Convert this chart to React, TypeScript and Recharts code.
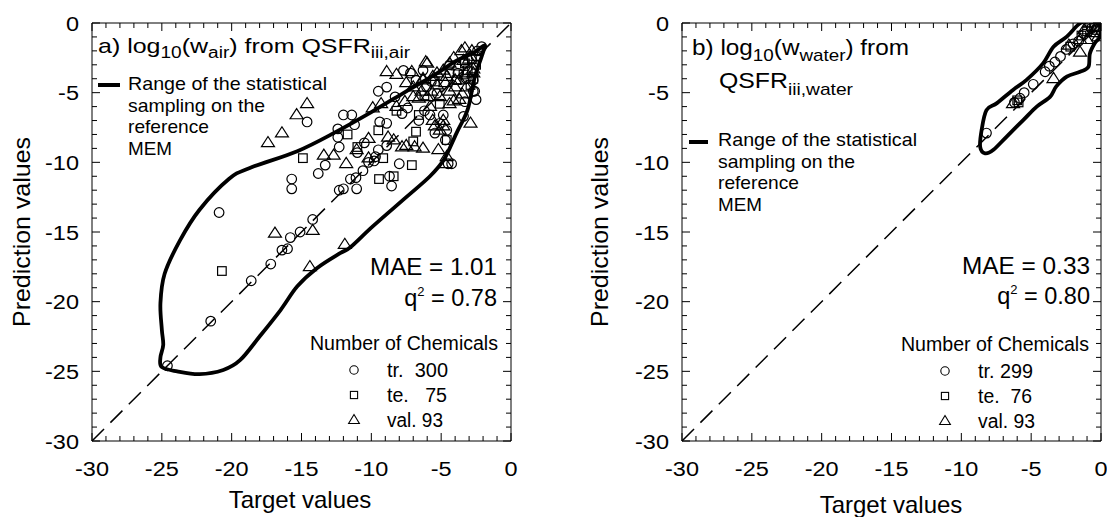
import { ComposedChart, Scatter, Line, XAxis, YAxis, ReferenceLine } from 'recharts';

type Pt = [number, number];

const AXIS_TICKS = [
  -30, -29, -28, -27, -26, -25, -24, -23, -22, -21, -20, -19, -18, -17, -16, -15,
  -14, -13, -12, -11, -10, -9, -8, -7, -6, -5, -4, -3, -2, -1, 0,
];
const DIAGONAL: Pt[] = [[-30, -30], [0, 0]];

// a) air
const AIR_TR: Pt[] = [
  [-24.6, -24.6], [-21.5, -21.4], [-18.6, -18.5], [-17.2, -17.3], [-16.4, -16.3], [-16.0, -16.2],
  [-15.8, -15.4], [-15.1, -15.0], [-14.2, -14.1], [-13.8, -10.8], [-13.3, -10.2], [-20.9, -13.6],
  [-15.7, -11.2], [-15.7, -11.9], [-14.6, -7.1], [-12.3, -12.0], [-12.0, -11.9], [-11.5, -11.2],
  [-11.1, -11.1], [-11.05, -11.9], [-10.6, -10.6], [-10.2, -10.0], [-9.7, -9.6], [-9.5, -9.1],
  [-8.9, -8.8], [-8.0, -10.1], [-8.7, -11.0], [-8.55, -11.7], [-4.5, -10.1], [-4.25, -10.1],
  [-12.0, -6.6], [-12.4, -7.6], [-12.4, -8.2], [-11.2, -7.3], [-11.4, -6.6], [-9.4, -7.1],
  [-8.9, -7.2], [-9.5, -4.9], [-8.9, -4.6], [-8.3, -5.3], [-7.8, -6.5], [-7.4, -6.1],
  [-6.6, -7.0], [-6.2, -6.3], [-5.8, -6.6], [-5.45, -7.9], [-5.1, -7.2], [-4.6, -7.7],
  [-4.7, -8.4], [-4.85, -6.6], [-3.4, -6.7], [-3.3, -5.65], [-2.6, -4.9], [-2.7, -4.1],
  [-4.4, -3.0], [-3.8, -3.6], [-3.2, -4.0], [-6.05, -4.6], [-5.7, -4.2], [-5.3, -5.05],
  [-7.7, -3.4], [-7.2, -3.6], [-6.8, -4.1], [-6.3, -3.4], [-2.4, -2.0], [-2.1, -1.7],
  [-2.5, -2.4], [-12.3, -8.9], [-10.5, -8.6], [-11.0, -9.3], [-9.8, -9.9], [-2.7, -4.9],
  [-2.5, -5.5],
];
const AIR_TE: Pt[] = [
  [-20.7, -17.8], [-14.9, -9.7], [-11.7, -8.0], [-11.0, -8.9], [-9.5, -7.7], [-9.15, -9.7],
  [-7.1, -10.2], [-9.45, -11.2], [-8.4, -11.0], [-7.0, -8.5], [-5.45, -4.2], [-6.6, -6.6],
  [-3.9, -4.1], [-3.4, -3.7], [-3.1, -3.4], [-2.9, -4.45], [-2.7, -4.0], [-5.1, -5.8],
  [-4.4, -3.6], [-6.8, -7.8], [-4.6, -8.4], [-2.8, -2.6], [-3.3, -2.9], [-2.5, -3.0],
  [-6.2, -5.2], [-8.2, -6.3],
];
const AIR_VAL: Pt[] = [
  [-14.6, -5.8], [-15.35, -6.6], [-16.4, -7.9], [-17.4, -8.6], [-8.9, -3.5], [-8.2, -3.7],
  [-7.1, -3.5], [-6.0, -2.9], [-10.2, -8.3], [-13.4, -9.5], [-12.7, -9.5], [-11.8, -10.1],
  [-10.2, -9.7], [-11.05, -9.1], [-9.9, -6.1], [-9.3, -5.8], [-8.2, -6.0], [-7.6, -5.65],
  [-7.0, -5.3], [-6.4, -4.9], [-8.4, -8.4], [-7.8, -8.9], [-7.5, -8.8], [-6.9, -8.9],
  [-6.3, -9.0], [-5.45, -7.4], [-5.1, -7.7], [-4.85, -7.0], [-5.2, -9.1], [-4.6, -9.6],
  [-4.7, -10.1], [-2.9, -7.2], [-6.6, -5.4], [-6.0, -5.3], [-5.7, -4.9], [-5.3, -4.45],
  [-4.7, -4.3], [-4.4, -4.9], [-4.0, -4.6], [-3.7, -4.1], [-3.2, -3.6], [-3.8, -3.1],
  [-5.3, -3.6], [-4.6, -3.85], [-6.3, -4.0], [-7.0, -4.6], [-7.5, -4.3], [-6.1, -2.8],
  [-3.55, -2.0], [-3.3, -1.8], [-2.8, -2.0], [-16.9, -15.1], [-14.2, -14.9], [-14.4, -17.5],
  [-11.9, -15.9], [-3.0, -2.6], [-2.7, -3.3], [-4.1, -2.5], [-3.5, -5.1], [-4.1, -5.6],
  [-8.8, -8.2], [-6.3, -4.1], [-5.6, -3.85], [-4.85, -3.4], [-4.4, -2.9], [-3.4, -2.7],
  [-2.9, -2.4], [-4.0, -4.1], [-3.2, -4.6], [-2.7, -3.6], [-5.1, -5.3], [-5.8, -6.0],
  [-4.4, -5.8], [-3.7, -5.5], [-5.6, -7.0], [-4.85, -7.4],
];
const AIR_RANGE: Pt[] = [
  [-1.9, -1.6], [-2.6, -2.1], [-3.9, -2.7], [-5.6, -3.8], [-7.5, -4.9], [-10.0, -6.4],
  [-12.5, -7.8], [-15.3, -9.2], [-18.7, -10.4], [-20.2, -11.2], [-22.3, -13.4], [-23.7, -15.6],
  [-24.8, -18.0], [-25.1, -20.1], [-25.0, -22.0], [-24.9, -23.1], [-25.1, -24.0], [-25.0, -24.7],
  [-23.9, -25.0], [-22.3, -25.2], [-20.6, -24.9], [-19.4, -24.2], [-18.0, -22.5], [-16.5, -20.6],
  [-15.3, -18.9], [-13.9, -17.6], [-12.2, -16.5], [-11.5, -16.1], [-9.9, -14.6], [-7.5, -12.5],
  [-5.8, -11.0], [-4.8, -9.8], [-3.9, -7.9], [-3.1, -6.2], [-2.6, -3.9], [-2.1, -2.4],
];

// b) water
const WATER_TR: Pt[] = [
  [-8.2, -7.9], [-6.2, -5.7], [-5.8, -5.4], [-5.5, -5.0], [-4.85, -4.4], [-4.0, -3.5],
  [-3.7, -3.1], [-3.3, -2.8], [-2.9, -2.4], [-2.5, -1.9], [-2.0, -1.5], [-1.6, -1.3],
  [-1.2, -0.8], [-0.7, -0.4], [-0.4, -0.2],
];
const WATER_TE: Pt[] = [
  [-6.0, -5.55], [-5.9, -5.7], [-2.2, -1.7], [-1.4, -0.9], [-1.0, -0.6], [-0.5, -0.3], [-0.3, -0.5],
];
const WATER_VAL: Pt[] = [
  [-6.3, -5.8], [-3.4, -4.0], [-1.5, -2.1], [-1.5, -1.2], [-1.0, -1.2], [-0.8, 0.0],
  [-0.6, -0.7], [-0.3, -0.3], [-2.3, -1.6], [-0.2, -1.0], [-1.2, -0.5],
];
const WATER_RANGE: Pt[] = [
  [-8.2, -6.25], [-8.55, -7.7], [-8.65, -8.9], [-8.3, -9.35], [-7.7, -9.1], [-6.75, -8.15],
  [-5.55, -6.95], [-4.6, -6.0], [-3.65, -5.3], [-3.2, -4.55], [-2.45, -3.85], [-1.5, -3.5],
  [-0.9, -3.15], [-0.8, -2.2], [-0.45, -1.45], [-0.08, -0.98], [-0.08, -0.14], [-0.8, 0.09],
  [-1.5, -0.02], [-2.45, -0.98], [-3.4, -1.7], [-4.15, -2.9], [-5.35, -4.1], [-6.3, -4.8],
  [-7.45, -5.75],
];

const toXY = (pts: Pt[]) => pts.map(([x, y]) => ({ x, y }));

// closed Catmull-Rom curve through the traced points
const closedSmooth = (context: any) => {
  let pts: number[][] = [];
  return {
    areaStart() {},
    areaEnd() {},
    lineStart() {
      pts = [];
    },
    point(x: number, y: number) {
      pts.push([+x, +y]);
    },
    lineEnd() {
      const n = pts.length;
      if (n < 3) return;
      context.moveTo(pts[0][0], pts[0][1]);
      for (let i = 0; i < n; i++) {
        const p0 = pts[(i + n - 1) % n];
        const p1 = pts[i];
        const p2 = pts[(i + 1) % n];
        const p3 = pts[(i + 2) % n];
        context.bezierCurveTo(
          p1[0] + (p2[0] - p0[0]) / 6, p1[1] + (p2[1] - p0[1]) / 6,
          p2[0] - (p3[0] - p1[0]) / 6, p2[1] - (p3[1] - p1[1]) / 6,
          p2[0], p2[1]
        );
      }
      context.closePath();
    },
  };
};

const FONT = '"Liberation Sans", Arial, sans-serif';

const CircleMark = (p: any) => <circle cx={p.cx} cy={p.cy} r={4.8} fill="none" stroke="#000" strokeWidth={1.2} />;
const SquareMark = (p: any) => <rect x={p.cx - 4.3} y={p.cy - 4.3} width={8.6} height={8.6} fill="none" stroke="#000" strokeWidth={1.2} />;
const TriMark = (p: any) => (
  <path d={`M${p.cx},${p.cy - 6.3}L${p.cx + 6.5},${p.cy + 3.8}L${p.cx - 6.5},${p.cy + 3.8}Z`} fill="none" stroke="#000" strokeWidth={1.2} />
);

const tickLen = (v: number) => (v % 5 === 0 ? 8 : 5);

const BottomTick = (props: any) => {
  const { x, y, payload } = props;
  const v = payload.value;
  return (
    <g>
      <line x1={x} x2={x} y1={y} y2={y - tickLen(v)} stroke="#000" />
      {v % 5 === 0 && (
        <text transform={`translate(${x},${y + 35}) scale(1.12,1)`} textAnchor="middle" fontSize={21} fontFamily={FONT} fill="#000">
          {v}
        </text>
      )}
    </g>
  );
};
const TopTick = (props: any) => {
  const { x, y, payload } = props;
  return <line x1={x} x2={x} y1={y} y2={y + tickLen(payload.value)} stroke="#000" />;
};
const LeftTick = (props: any) => {
  const { x, y, payload } = props;
  const v = payload.value;
  return (
    <g>
      <line x1={x} x2={x + tickLen(v)} y1={y} y2={y} stroke="#000" />
      {v % 5 === 0 && (
        <text transform={`translate(${x - 13},${y + 7.5}) scale(1.12,1)`} textAnchor="end" fontSize={21} fontFamily={FONT} fill="#000">
          {v}
        </text>
      )}
    </g>
  );
};
const RightTick = (props: any) => {
  const { x, y, payload } = props;
  return <line x1={x} x2={x - tickLen(payload.value)} y1={y} y2={y} stroke="#000" />;
};

interface PanelProps {
  left: number;
  width: number;
  marginLeft: number;
  marginRight: number;
  range: Pt[];
  tr: Pt[];
  te: Pt[];
  val: Pt[];
}

function Panel({ left, width, marginLeft, marginRight, range, tr, te, val }: PanelProps) {
  // axes are 1px thick so recharts still draws them; margins compensate
  return (
    <div style={{ position: 'absolute', left, top: 0 }}>
      <ComposedChart width={width} height={517} margin={{ top: 22, right: marginRight - 1, bottom: 75, left: marginLeft - 1 }}>
        <XAxis type="number" dataKey="x" domain={[-30, 0]} allowDataOverflow ticks={AXIS_TICKS} interval={0}
          height={1} tickSize={0} tickMargin={0} tickLine={false} tick={BottomTick} axisLine={{ stroke: '#000' }} />
        <XAxis xAxisId="top" orientation="top" type="number" dataKey="x" domain={[-30, 0]} allowDataOverflow ticks={AXIS_TICKS} interval={0}
          height={1} tickSize={0} tickMargin={0} tickLine={false} tick={TopTick} axisLine={{ stroke: '#000' }} />
        <YAxis type="number" dataKey="y" domain={[-30, 0]} allowDataOverflow ticks={AXIS_TICKS} interval={0}
          width={1} tickSize={0} tickMargin={0} tickLine={false} tick={LeftTick} axisLine={{ stroke: '#000' }} />
        <YAxis yAxisId="right" orientation="right" type="number" dataKey="y" domain={[-30, 0]} allowDataOverflow ticks={AXIS_TICKS} interval={0}
          width={1} tickSize={0} tickMargin={0} tickLine={false} tick={RightTick} axisLine={{ stroke: '#000' }} />
        <ReferenceLine segment={toXY(DIAGONAL)} stroke="#000" strokeWidth={1.5} strokeDasharray="17 9" ifOverflow="visible" />
        <Line data={toXY(range)} dataKey="y" type={closedSmooth as any} stroke="#000" strokeWidth={3.8}
          dot={false} activeDot={false} isAnimationActive={false} />
        <Scatter data={toXY(tr)} shape={CircleMark} isAnimationActive={false} />
        <Scatter data={toXY(te)} shape={SquareMark} isAnimationActive={false} />
        <Scatter data={toXY(val)} shape={TriMark} isAnimationActive={false} />
      </ComposedChart>
    </div>
  );
}

function T(props: any) {
  const { x, y, size, w, anchor = 'start', children } = props;
  return (
    <text x={x} y={y} fontSize={size} textAnchor={anchor} textLength={w} lengthAdjust="spacingAndGlyphs"
      style={{ whiteSpace: 'pre' }}>
      {children}
    </text>
  );
}

function Legend({ mx, tx, rightX, top, items, lineX, lineY, textX, textY, lineW }: any) {
  return (
    <g>
      <line x1={lineX} x2={lineX + lineW} y1={lineY} y2={lineY} stroke="#000" strokeWidth={4} />
      <T x={textX} y={textY} size={19} w={199}>Range of the statistical</T>
      <T x={textX} y={textY + 21.5} size={19} w={137}>sampling on the</T>
      <T x={textX} y={textY + 43} size={19} w={81}>reference</T>
      <T x={textX} y={textY + 64.5} size={19} w={44}>MEM</T>
      <T x={rightX} y={top} size={19.5} w={188} anchor="end">Number of Chemicals</T>
      <circle cx={mx} cy={top + 20} r={4.2} fill="none" stroke="#000" strokeWidth={1.1} />
      <rect x={mx - 3.6} y={top + 41.4} width={7.2} height={7.2} fill="none" stroke="#000" strokeWidth={1.1} />
      <path d={`M${mx},${top + 64.5}L${mx + 5.4},${top + 73.5}L${mx - 5.4},${top + 73.5}Z`} fill="none" stroke="#000" strokeWidth={1.1} />
      {items.map((it: any, i: number) => (
        <T key={i} x={tx} y={top + 27 + i * 25} size={19.5} w={it.w}>{it.label}</T>
      ))}
    </g>
  );
}

export default function App() {
  return (
    <div style={{ position: 'fixed', left: 0, top: 0, width: 1107, height: 517, background: '#fff', fontFamily: FONT }}>
      <Panel left={0} width={560} marginLeft={92} marginRight={49} range={AIR_RANGE} tr={AIR_TR} te={AIR_TE} val={AIR_VAL} />
      <Panel left={560} width={547} marginLeft={122} marginRight={6} range={WATER_RANGE} tr={WATER_TR} te={WATER_TE} val={WATER_VAL} />
      <svg width={1107} height={517} style={{ position: 'absolute', left: 0, top: 0, pointerEvents: 'none' }} fontFamily={FONT} fill="#000">
        {/* axis titles */}
        <text x={300} y={508} fontSize={24} textAnchor="middle">Target values</text>
        <text x={891} y={513} fontSize={24} textAnchor="middle">Target values</text>
        <text transform="translate(30,232) rotate(-90)" fontSize={24} textAnchor="middle" textLength={190} lengthAdjust="spacingAndGlyphs">Prediction values</text>
        <text transform="translate(608,232) rotate(-90)" fontSize={24} textAnchor="middle" textLength={190} lengthAdjust="spacingAndGlyphs">Prediction values</text>

        {/* panel a */}
        <text x={98} y={53} fontSize={21} textLength={312} lengthAdjust="spacingAndGlyphs">
          a) log<tspan fontSize={16} dy={5}>10</tspan><tspan dy={-5}>(w</tspan><tspan fontSize={16} dy={5}>air</tspan>
          <tspan dy={-5}>) from QSFR</tspan><tspan fontSize={16} dy={5}>iii,air</tspan>
        </text>
        <Legend lineX={98} lineY={85} lineW={22} textX={128} textY={90} rightX={498} top={350} mx={354} tx={387}
          items={[{ label: 'tr.  300', w: 61 }, { label: 'te.   75', w: 60 }, { label: 'val. 93', w: 56 }]} />
        <T x={497} y={275} size={23.5} w={127} anchor="end">MAE = 1.01</T>
        <text x={497} y={306} fontSize={23.5} textAnchor="end">
          q<tspan fontSize={13} dy={-10}>2</tspan><tspan dy={10}> = 0.78</tspan>
        </text>

        {/* panel b */}
        <text x={692} y={55} fontSize={22} textLength={217} lengthAdjust="spacingAndGlyphs">
          b) log<tspan fontSize={17} dy={6}>10</tspan><tspan dy={-6}>(w</tspan><tspan fontSize={17} dy={6}>water</tspan>
          <tspan dy={-6}>) from</tspan>
        </text>
        <text x={719} y={88} fontSize={22} textLength={134} lengthAdjust="spacingAndGlyphs">
          QSFR<tspan fontSize={17} dy={7}>iii,water</tspan>
        </text>
        <Legend lineX={689} lineY={142} lineW={19} textX={718} textY={146} rightX={1089} top={351} mx={945} tx={978}
          items={[{ label: 'tr. 299', w: 55 }, { label: 'te.  76', w: 54 }, { label: 'val. 93', w: 57 }]} />
        <T x={1090} y={274} size={23.5} w={128} anchor="end">MAE = 0.33</T>
        <text x={1090} y={304} fontSize={23.5} textAnchor="end">
          q<tspan fontSize={13} dy={-10}>2</tspan><tspan dy={10}> = 0.80</tspan>
        </text>
      </svg>
    </div>
  );
}
